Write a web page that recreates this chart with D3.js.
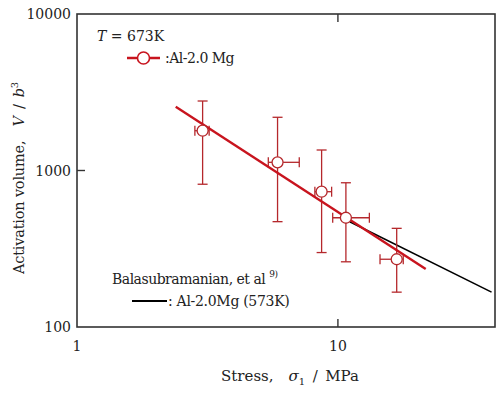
<!DOCTYPE html>
<html>
<head>
<meta charset="utf-8">
<script src="https://cdn.jsdelivr.net/npm/d3@7"></script>
<style>
  body { margin: 0; background: #fff; }
</style>
</head>
<body>
<div id="chart"></div>
<script>
// 数据点 (应力 MPa, 激活体积 V/b^3)
const stress = [3.03, 5.87, 8.66, 10.73, 16.8];
const volume = [1796, 1128, 732, 499, 271];
const volTop = [2780, 2188, 1352, 835, 427];
const volBottom = [817, 471, 299, 261, 167];
const stressLow = [2.83, 5.41, 8.16, 9.55, 14.5];
const stressHigh = [3.21, 7.11, 9.46, 13.2, 17.8];

// 拟合线
const fitLine = [[2.39, 2559], [21.7, 235]];
// Balasubramanian 573K
const refLine = [[11.1, 471], [38.8, 167]];

const xTicks = [1, 10];
const yTicks = [100, 1000, 10000];

const width = 500, height = 394;
const margin = {left: 77, right: 5, top: 14, bottom: 67};

const svg = d3.select("#chart").append("svg")
    .attr("width", width)
    .attr("height", height)
    .style("font-family", "'DejaVu Serif', serif")
    .attr("fill", "#222");

const x = d3.scaleLog().domain([1, 40]).range([margin.left, width - margin.right]);
const y = d3.scaleLog().domain([100, 10000]).range([height - margin.bottom, margin.top]);

const red = "#c8141e";

// 绘制参考线(黑)
const line = d3.line().x(d => x(d[0])).y(d => y(d[1]));
svg.append("path")
    .datum(refLine)
    .attr("d", line)
    .attr("fill", "none")
    .attr("stroke", "#000")
    .attr("stroke-width", 1.6);

// 误差棒
const pts = stress.map((s, i) => ({s, v: volume[i], t: volTop[i], b: volBottom[i], lo: stressLow[i], hi: stressHigh[i]}));
const eb = svg.append("g").attr("stroke", "#b5282c").attr("stroke-width", 1.3).attr("fill", "none");
const cap = 5;
pts.forEach(d => {
    eb.append("line").attr("x1", x(d.s)).attr("x2", x(d.s)).attr("y1", y(d.t)).attr("y2", y(d.b));
    eb.append("line").attr("x1", x(d.s) - cap).attr("x2", x(d.s) + cap).attr("y1", y(d.t)).attr("y2", y(d.t));
    eb.append("line").attr("x1", x(d.s) - cap).attr("x2", x(d.s) + cap).attr("y1", y(d.b)).attr("y2", y(d.b));
    eb.append("line").attr("x1", x(d.lo)).attr("x2", x(d.hi)).attr("y1", y(d.v)).attr("y2", y(d.v));
    eb.append("line").attr("x1", x(d.lo)).attr("x2", x(d.lo)).attr("y1", y(d.v) - cap).attr("y2", y(d.v) + cap);
    eb.append("line").attr("x1", x(d.hi)).attr("x2", x(d.hi)).attr("y1", y(d.v) - cap).attr("y2", y(d.v) + cap);
});

// 拟合线(红)
svg.append("path")
    .datum(fitLine)
    .attr("d", line)
    .attr("fill", "none")
    .attr("stroke", red)
    .attr("stroke-width", 2.4);

// 数据点
svg.append("g")
    .selectAll("circle")
    .data(pts)
    .join("circle")
    .attr("cx", d => x(d.s))
    .attr("cy", d => y(d.v))
    .attr("r", 5.5)
    .attr("fill", "#fff")
    .attr("stroke", "#b5282c")
    .attr("stroke-width", 1.3);

// 边框
const x0 = margin.left, x1 = width - margin.right, y0 = margin.top, y1 = height - margin.bottom;
svg.append("rect")
    .attr("x", x0).attr("y", y0)
    .attr("width", x1 - x0).attr("height", y1 - y0)
    .attr("fill", "none")
    .attr("stroke", "#333")
    .attr("stroke-width", 1.6);

// 刻度(向内)
const tickLen = 8;
const tg = svg.append("g").attr("stroke", "#333").attr("stroke-width", 1.4);
xTicks.filter(t => t > 1).forEach(t => {
    tg.append("line").attr("x1", x(t)).attr("x2", x(t)).attr("y1", y1).attr("y2", y1 - tickLen);
    tg.append("line").attr("x1", x(t)).attr("x2", x(t)).attr("y1", y0).attr("y2", y0 + tickLen);
});
yTicks.filter(t => t > 100 && t < 10000).forEach(t => {
    tg.append("line").attr("x1", x0).attr("x2", x0 + tickLen).attr("y1", y(t)).attr("y2", y(t));
});

// 刻度标签
svg.append("g").selectAll("text")
    .data(xTicks)
    .join("text")
    .attr("x", d => x(d))
    .attr("y", y1 + 24)
    .attr("text-anchor", "middle")
    .attr("font-size", 14)
    .text(d => d);
svg.append("g").selectAll("text")
    .data(yTicks)
    .join("text")
    .attr("x", x0 - 6)
    .attr("y", d => y(d) + 5)
    .attr("text-anchor", "end")
    .attr("font-size", 14)
    .text(d => d);

// 坐标轴标题
const xl = svg.append("text")
    .attr("x", 290).attr("y", 381)
    .attr("text-anchor", "middle")
    .attr("font-size", 15);
xl.append("tspan").text("Stress,\u2003");
xl.append("tspan").attr("font-style", "italic").text("σ");
xl.append("tspan").attr("font-size", 10).attr("dy", 4).text("1");
xl.append("tspan").attr("dy", -4).text("\u2002/\u2002MPa");

const yl = svg.append("text")
    .attr("transform", "translate(24,178) rotate(-90)")
    .attr("text-anchor", "middle")
    .attr("font-size", 14.5)
    .attr("letter-spacing", "-0.2");
yl.append("tspan").text("Activation volume,\u2003");
yl.append("tspan").attr("font-style", "italic").text("V");
yl.append("tspan").text("\u2002/\u2002");
yl.append("tspan").attr("font-style", "italic").text("b");
yl.append("tspan").attr("font-size", 10).attr("dy", -6).text("3");

// 图例
const t1 = svg.append("text").attr("x", 97).attr("y", 41).attr("font-size", 14);
t1.append("tspan").attr("font-style", "italic").text("T");
t1.append("tspan").text(" = 673K");

svg.append("line")
    .attr("x1", 127).attr("x2", 160).attr("y1", 58).attr("y2", 58)
    .attr("stroke", red).attr("stroke-width", 2.6);
svg.append("circle")
    .attr("cx", 143.5).attr("cy", 58).attr("r", 6)
    .attr("fill", "#fff").attr("stroke", red).attr("stroke-width", 1.6);
svg.append("text").attr("x", 165).attr("y", 63).attr("font-size", 14)
    .attr("letter-spacing", "-0.5").text(":Al-2.0 Mg");

const t2 = svg.append("text").attr("x", 112).attr("y", 284).attr("font-size", 14)
    .attr("letter-spacing", "-0.5");
t2.append("tspan").text("Balasubramanian, et al ");
t2.append("tspan").attr("font-size", 9).attr("dy", -7).text("9)");

svg.append("line")
    .attr("x1", 132).attr("x2", 167).attr("y1", 301).attr("y2", 301)
    .attr("stroke", "#000").attr("stroke-width", 1.8);
svg.append("text").attr("x", 168).attr("y", 306).attr("font-size", 14)
    .attr("letter-spacing", "-0.3")
    .text(": Al-2.0Mg (573K)");
</script>
</body>
</html>
